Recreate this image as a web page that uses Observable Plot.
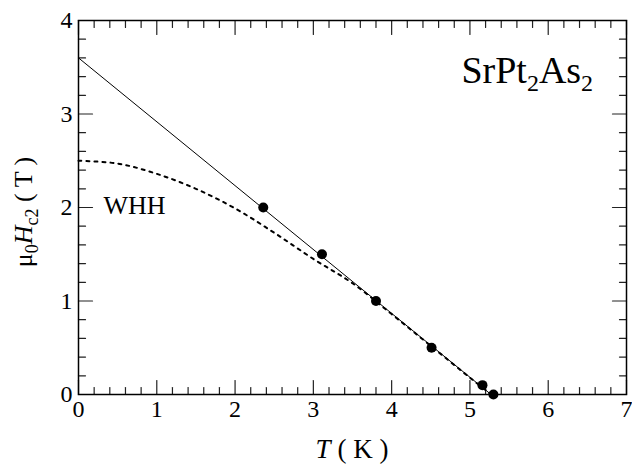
<!DOCTYPE html>
<html><head><meta charset="utf-8">
<script src="https://cdn.jsdelivr.net/npm/d3@7"></script>
<script src="https://cdn.jsdelivr.net/npm/@observablehq/plot@0.6"></script>
<style>body{margin:0;background:#fff;}</style>
</head><body><div id="chart"></div>
<script>
// Measured upper critical field points
const measuredT = [2.36, 3.11, 3.80, 4.51, 5.16, 5.30];
const measuredH = [2.0, 1.5, 1.0, 0.5, 0.1, 0.0];
// Linear extrapolation line
const fitT = [0, 5.27];
const fitH = [3.6, 0];
// WHH curve
const whhT = [0, 0.5, 1.0, 1.5, 2.0, 2.5, 3.0, 3.5, 4.0, 4.5, 5.0, 5.27];
const whhH = [2.50, 2.47, 2.36, 2.20, 1.99, 1.73, 1.45, 1.19, 0.86, 0.52, 0.18, 0.0];
// Ticks
const xTicks = [0, 1, 2, 3, 4, 5, 6, 7];
const yTicks = [0, 1, 2, 3, 4];
const xMinor = d3.range(0, 7.001, 0.2).filter(v => Math.abs(v - Math.round(v)) > 1e-6);
const yMinor = d3.range(0, 4.001, 0.2).filter(v => Math.abs(v - Math.round(v)) > 1e-6);

const points = measuredT.map((t, i) => ({T: t, H: measuredH[i]}));
const fit = fitT.map((t, i) => ({T: t, H: fitH[i]}));
const whh = whhT.map((t, i) => ({T: t, H: whhH[i]}));

const font = "Liberation Serif";
const W = 632, Hh = 466, ML = 78, MR = 6, MT = 20, MB = 72;
const xDom = [0, 7], yDom = [0, 4];
// tick lengths (pixels) converted to data units
const MAJ = 14, MIN = 7;
const pxX = (W - ML - MR) / (xDom[1] - xDom[0]);
const pxY = (Hh - MT - MB) / (yDom[1] - yDom[0]);
// tick segments as two-point polylines
const segs = [];
let sid = 0;
function addX(vals, at, dir, len) { for (const v of vals) { sid++; segs.push({id: sid, x: v, y: at}, {id: sid, x: v, y: at + dir * len / pxY}); } }
function addY(vals, at, dir, len) { for (const v of vals) { sid++; segs.push({id: sid, x: at, y: v}, {id: sid, x: at + dir * len / pxX, y: v}); } }
addX(xTicks, 0, 1, MAJ); addX(xMinor, 0, 1, MIN);
addX(xTicks, 4, -1, MAJ); addX(xMinor, 4, -1, MIN);
addY(yTicks, 0, 1, MAJ); addY(yMinor, 0, 1, MIN);
addY(yTicks, 7, -1, MAJ); addY(yMinor, 7, -1, MIN);

const plot = Plot.plot({
  width: W, height: Hh,
  marginLeft: ML, marginRight: MR, marginTop: MT, marginBottom: MB,
  x: {domain: xDom},
  y: {domain: yDom},
  style: {fontFamily: font, fontSize: "24px", color: "black", background: "white"},
  marks: [
    Plot.axisX(xTicks, {tickSize: 0, tickPadding: 5, fontSize: 24, fontFamily: font, tickFormat: d3.format("d"), label: null}),
    Plot.axisY(yTicks, {tickSize: 0, tickPadding: 6, fontSize: 24, fontFamily: font, tickFormat: d3.format("d"), label: null}),
    Plot.line(segs, {x: "x", y: "y", z: "id", stroke: "#222", strokeWidth: 1.2}),
    Plot.line(whh, {x: "T", y: "H", curve: "catmull-rom", stroke: "black", strokeWidth: 2, strokeDasharray: "3,5"}),
    Plot.line(fit, {x: "T", y: "H", stroke: "black", strokeWidth: 1}),
    Plot.dot(points, {x: "T", y: "H", r: 5, fill: "black", stroke: "none"}),
    Plot.text(["WHH"], {x: () => 0.32, y: () => 2.02, text: d => d, textAnchor: "start", fontSize: 26, fontFamily: font, fill: "black"}),
    Plot.frame({stroke: "black", strokeWidth: 1.5})
  ]
});

const svg = d3.select(plot);
const sx = plot.scale("x"), sy = plot.scale("y");

// Compound label
const comp = svg.append("text")
  .attr("x", sx.apply(6.58)).attr("y", sy.apply(3.33))
  .attr("text-anchor", "end").attr("font-family", font).attr("font-size", 38).attr("fill", "black");
comp.append("tspan").text("SrPt");
comp.append("tspan").attr("font-size", 24).attr("dy", 8).text("2");
comp.append("tspan").attr("dy", -8).text("As");
comp.append("tspan").attr("font-size", 24).attr("dy", 8).text("2");

// X axis label
const xl = svg.append("text")
  .attr("x", (ML + W - MR) / 2).attr("y", 458)
  .attr("text-anchor", "middle").attr("font-family", font).attr("font-size", 27).attr("fill", "black")
  .attr("xml:space", "preserve");
xl.append("tspan").attr("font-style", "italic").text("T");
xl.append("tspan").text(" ( K )");

// Y axis label
const yl = svg.append("text")
  .attr("transform", `translate(32,212) rotate(-90)`)
  .attr("text-anchor", "middle").attr("font-family", font).attr("font-size", 26).attr("fill", "black");
yl.append("tspan").text("μ");
yl.append("tspan").attr("font-size", 18).attr("dy", 6).text("0");
yl.append("tspan").attr("dy", -6).attr("font-style", "italic").text("H");
yl.append("tspan").attr("font-size", 18).attr("dy", 6).text("c2");
yl.append("tspan").attr("dy", -6).text(" ( T )");

document.getElementById("chart").appendChild(plot);
</script>
</body></html>
